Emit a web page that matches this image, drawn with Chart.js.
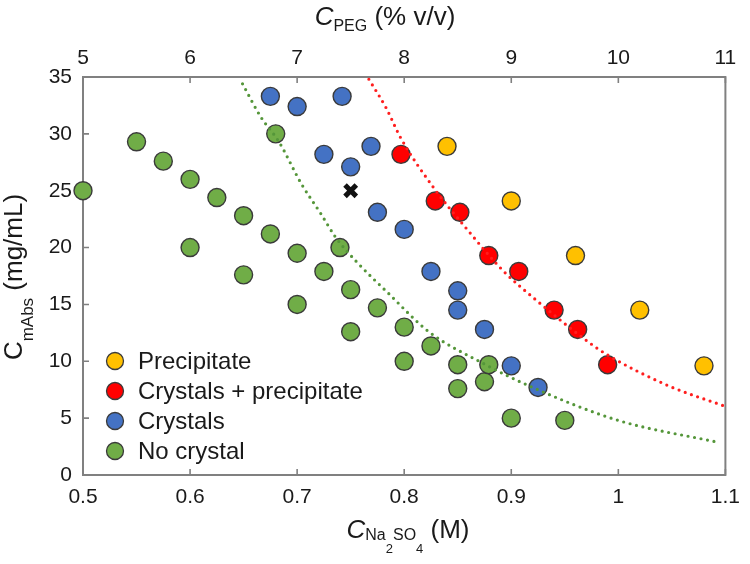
<!DOCTYPE html>
<html>
<head>
<meta charset="utf-8">
<script src="https://cdn.jsdelivr.net/npm/chart.js@4"></script>
<style>
  html, body { margin: 0; padding: 0; background: #fff; }
  #wrap { width: 750px; height: 564px; position: relative; }
</style>
</head>
<body>
<div id="wrap"><canvas id="phase"></canvas></div>
<script>
// tick labels
const xTicks = [0.5, 0.6, 0.7, 0.8, 0.9, 1.0, 1.1];
const pegTicks = [5, 6, 7, 8, 9, 10, 11];
const yTicks = [0, 5, 10, 15, 20, 25, 30, 35];

// categories
const labels = ['Precipitate', 'Crystals + precipitate', 'Crystals', 'No crystal'];
const colors = ['#FFC000', '#FF0000', '#4472C4', '#70AD47'];

// series values (Na2SO4 M, mAb mg/mL)
const precipX = [0.84, 0.90, 0.96, 1.02, 1.08];
const precipY = [28.9, 24.1, 19.3, 14.5, 9.6];

const crysPrecipX = [0.797, 0.829, 0.852, 0.879, 0.907, 0.94, 0.962, 0.99];
const crysPrecipY = [28.2, 24.1, 23.1, 19.3, 17.9, 14.5, 12.8, 9.7];

const crystalsX = [0.675, 0.70, 0.742, 0.725, 0.769, 0.75, 0.775, 0.80, 0.825, 0.85, 0.85, 0.875, 0.90, 0.925];
const crystalsY = [33.3, 32.4, 33.3, 28.2, 28.9, 27.1, 23.1, 21.6, 17.9, 16.2, 14.5, 12.8, 9.6, 7.7];

const noCrystalX = [0.50, 0.55, 0.575, 0.60, 0.625, 0.65, 0.675, 0.70, 0.725, 0.75, 0.775, 0.80, 0.825, 0.85, 0.875,
                    0.60, 0.65, 0.70, 0.75, 0.80, 0.85, 0.68, 0.74, 0.879, 0.90, 0.95];
const noCrystalY = [25.0, 29.3, 27.6, 26.0, 24.4, 22.8, 21.2, 19.5, 17.9, 16.3, 14.7, 13.0, 11.35, 9.7, 8.2,
                    20.0, 17.6, 15.0, 12.6, 10.0, 7.6, 30.0, 20.0, 9.7, 5.0, 4.8];

// marked condition
const markX = [0.75];
const markY = [25.0];

// boundary curves
const greenCurveX = [0.649, 0.666, 0.683, 0.704, 0.722, 0.736, 0.755, 0.785, 0.823, 0.872, 0.92, 1.0, 1.094];
const greenCurveY = [34.4, 31.5, 29.3, 25.6, 23.0, 20.9, 18.8, 16.0, 12.6, 9.9, 7.7, 4.8, 2.86];
const redCurveX = [0.767, 0.783, 0.797, 0.828, 0.857, 0.892, 0.923, 0.972, 0.99, 1.048, 1.098];
const redCurveY = [34.8, 32.3, 29.6, 25.2, 21.8, 18.0, 15.4, 11.7, 10.55, 7.8, 6.1];

const FONT = "'Liberation Sans', Arial, sans-serif";
const pts = (xs, ys) => xs.map((x, i) => ({ x: x, y: ys[i] }));

function pointSet(i, xs, ys) {
  return {
    label: labels[i],
    data: pts(xs, ys),
    backgroundColor: colors[i],
    borderColor: '#3a3a3a',
    borderWidth: 1.4,
    pointRadius: 9,
    pointHoverRadius: 9,
    clip: false,
    order: 2,
    inLegend: true
  };
}

function curveSet(xs, ys, col) {
  return {
    type: 'line',
    data: pts(xs, ys),
    borderColor: col,
    borderWidth: 3.2,
    borderDash: [0, 6.6],
    borderCapStyle: 'round',
    pointRadius: 0,
    tension: 0.4,
    cubicInterpolationMode: 'monotone',
    fill: false,
    order: 0
  };
}

// rich text: parts = [text, size, italic, dy]
function richText(ctx, parts, cx, baseY, rot) {
  ctx.save();
  let w = 0;
  parts.forEach(p => {
    ctx.font = (p[2] ? 'italic ' : '') + p[1] + 'px ' + FONT;
    w += ctx.measureText(p[0]).width;
  });
  if (rot) {
    ctx.translate(baseY, cx);
    ctx.rotate(-Math.PI / 2);
  } else {
    ctx.translate(cx, baseY);
  }
  let x = -w / 2;
  ctx.fillStyle = '#1a1a1a';
  ctx.textBaseline = 'alphabetic';
  ctx.textAlign = 'left';
  parts.forEach(p => {
    ctx.font = (p[2] ? 'italic ' : '') + p[1] + 'px ' + FONT;
    ctx.fillText(p[0], x, p[3]);
    x += ctx.measureText(p[0]).width;
  });
  ctx.restore();
}

const framePlugin = {
  id: 'frame',
  beforeDatasetsDraw(chart) {
    const { ctx, chartArea: a, scales } = chart;
    ctx.save();
    ctx.strokeStyle = '#808080';
    ctx.lineWidth = 2;
    ctx.strokeRect(a.left, a.top, a.right - a.left, a.bottom - a.top);
    ctx.lineWidth = 1.6;
    ctx.beginPath();
    xTicks.forEach(v => {
      const px = scales.x.getPixelForValue(v);
      ctx.moveTo(px, a.bottom); ctx.lineTo(px, a.bottom - 6);
    });
    pegTicks.forEach(v => {
      const px = scales.x2.getPixelForValue(v);
      ctx.moveTo(px, a.top); ctx.lineTo(px, a.top + 6);
    });
    yTicks.forEach(v => {
      const py = scales.y.getPixelForValue(v);
      ctx.moveTo(a.left, py); ctx.lineTo(a.left + 6, py);
    });
    ctx.stroke();
    ctx.restore();
  },
  afterDraw(chart) {
    const { ctx, chartArea: a } = chart;
    richText(ctx, [['C', 26, true, 0], ['PEG', 16, false, 5.7], [' (% v/v)', 26, false, 0]], 385, 25);
    richText(ctx, [['C', 26, true, 0], ['Na', 16, false, 1.5], ['2', 13, false, 15], ['SO', 16, false, 1.5],
                   ['4', 13, false, 15], [' (M)', 26, false, 0]], 408, 538);
    richText(ctx, [['C', 26, false, 0], ['mAbs', 17, false, 10.5], [' (mg/mL)', 26, false, 0]],
             277, 22, true);

    // legend
    ctx.save();
    const sets = chart.data.datasets.filter(d => d.inLegend);
    sets.forEach((d, i) => {
      const y = 361 + i * 30;
      ctx.beginPath();
      ctx.arc(115, y, 8.5, 0, Math.PI * 2);
      ctx.fillStyle = d.backgroundColor;
      ctx.fill();
      ctx.lineWidth = 1.3;
      ctx.strokeStyle = '#3a3a3a';
      ctx.stroke();
      ctx.fillStyle = '#1a1a1a';
      ctx.font = '24px ' + FONT;
      ctx.textBaseline = 'middle';
      ctx.fillText(d.label, 138, y + 1);
    });
    ctx.restore();
  }
};

const tickFont = { family: FONT, size: 21 };

new Chart(document.getElementById('phase'), {
  type: 'scatter',
  data: {
    datasets: [
      curveSet(greenCurveX, greenCurveY, '#55963a'),
      curveSet(redCurveX, redCurveY, '#ff1e1e'),
      {
        data: pts(markX, markY),
        pointStyle: 'crossRot',
        pointRadius: 8,
        borderColor: '#111',
        borderWidth: 5,
        clip: false,
        order: 1
      },
      pointSet(0, precipX, precipY),
      pointSet(1, crysPrecipX, crysPrecipY),
      pointSet(2, crystalsX, crystalsY),
      pointSet(3, noCrystalX, noCrystalY)
    ]
  },
  options: {
    responsive: true,
    maintainAspectRatio: false,
    animation: false,
    layout: { padding: { left: 0, right: 11, top: 0, bottom: 0 } },
    plugins: { legend: { display: false }, tooltip: { enabled: false } },
    scales: {
      x: {
        type: 'linear', position: 'bottom', min: 0.5, max: 1.1,
        afterBuildTicks: s => { s.ticks = xTicks.map(v => ({ value: v })); },
        afterFit: s => { s.height = 89; },
        grid: { display: false, drawTicks: false },
        border: { display: false },
        ticks: { font: tickFont, color: '#1a1a1a', padding: 10, maxRotation: 0,
                 callback: v => String(+v.toFixed(1)) }
      },
      x2: {
        type: 'linear', position: 'top', min: 5, max: 11,
        afterBuildTicks: s => { s.ticks = pegTicks.map(v => ({ value: v })); },
        afterFit: s => { s.height = 77; },
        grid: { display: false, drawTicks: false },
        border: { display: false },
        ticks: { font: tickFont, color: '#1a1a1a', padding: 6, maxRotation: 0 }
      },
      y: {
        type: 'linear', min: 0, max: 35,
        afterBuildTicks: s => { s.ticks = yTicks.map(v => ({ value: v })); },
        afterFit: s => { s.width = 83; },
        grid: { display: false, drawTicks: false },
        border: { display: false },
        ticks: { font: tickFont, color: '#1a1a1a', padding: 11 }
      }
    }
  },
  plugins: [framePlugin]
});
</script>
</body>
</html>
